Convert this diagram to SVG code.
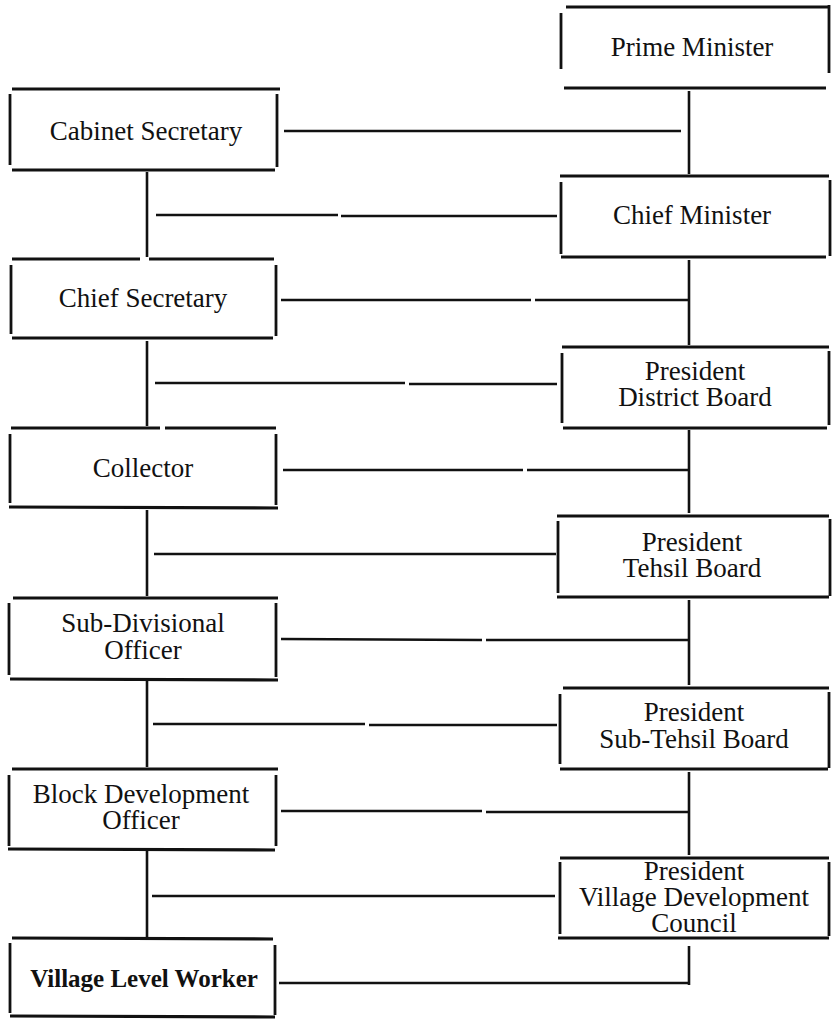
<svg xmlns="http://www.w3.org/2000/svg" width="832" height="1020" viewBox="0 0 832 1020">
<style>
.bg{fill:#fff}
.h{stroke:#111;stroke-width:3.2;stroke-linecap:butt}
.v{stroke:#111;stroke-width:2.8;stroke-linecap:butt}
.c{stroke:#111;stroke-width:2.6;fill:none}
.t{font-family:"Liberation Serif","Times New Roman",serif;font-size:27px;fill:#111;text-anchor:middle}
.b{font-weight:bold;font-size:25px}
</style>
<rect class="bg" x="0" y="0" width="832" height="1020"/>
<g id="connectors">
  <line class="c" x1="689" y1="91" x2="689" y2="174"/>
  <line class="c" x1="689" y1="260" x2="689" y2="345"/>
  <line class="c" x1="689" y1="430" x2="689" y2="513"/>
  <line class="c" x1="689" y1="600" x2="689" y2="685"/>
  <line class="c" x1="689" y1="772" x2="689" y2="855"/>
  <line class="c" x1="689" y1="946" x2="689" y2="985"/>
  <line class="c" x1="147" y1="172" x2="147" y2="257"/>
  <line class="c" x1="147" y1="341" x2="147" y2="426"/>
  <line class="c" x1="147" y1="510" x2="147" y2="596"/>
  <line class="c" x1="147" y1="681" x2="147" y2="767"/>
  <line class="c" x1="147" y1="851" x2="147" y2="937"/>
  <line class="c" x1="284" y1="131" x2="681" y2="131"/>
  <line class="c" x1="281" y1="300" x2="531" y2="300"/>
  <line class="c" x1="535" y1="300" x2="689" y2="300"/>
  <line class="c" x1="283" y1="470" x2="523" y2="470"/>
  <line class="c" x1="527" y1="470" x2="689" y2="470"/>
  <line class="c" x1="281" y1="639" x2="482" y2="640"/>
  <line class="c" x1="486" y1="640" x2="689" y2="640"/>
  <line class="c" x1="281" y1="811" x2="482" y2="811"/>
  <line class="c" x1="486" y1="812" x2="689" y2="812"/>
  <line class="c" x1="279" y1="983" x2="689" y2="983"/>
  <line class="c" x1="156" y1="215" x2="338" y2="215"/>
  <line class="c" x1="341" y1="216" x2="557" y2="216"/>
  <line class="c" x1="155" y1="383" x2="405" y2="383"/>
  <line class="c" x1="409" y1="384" x2="557" y2="384"/>
  <line class="c" x1="154" y1="554" x2="556" y2="554"/>
  <line class="c" x1="153" y1="724" x2="365" y2="724"/>
  <line class="c" x1="369" y1="725" x2="557" y2="725"/>
  <line class="c" x1="152" y1="896" x2="555" y2="896"/>
</g>
<g id="prime-minister">
  <line class="h" x1="566" y1="7" x2="829" y2="7"/>
  <line class="v" x1="561" y1="13" x2="561" y2="69"/>
  <line class="v" x1="829" y1="5" x2="829" y2="73"/>
  <line class="h" x1="564" y1="88" x2="826" y2="88"/>
  <text class="t" x="692" y="56">Prime Minister</text>
</g>
<g id="cabinet-secretary">
  <line class="h" x1="12" y1="89" x2="280" y2="89"/>
  <line class="v" x1="10" y1="94" x2="10" y2="165"/>
  <line class="v" x1="277" y1="94" x2="277" y2="167"/>
  <line class="h" x1="12" y1="170" x2="275" y2="170"/>
  <text class="t" x="146" y="140">Cabinet Secretary</text>
</g>
<g id="chief-minister">
  <line class="h" x1="560" y1="176" x2="829" y2="176"/>
  <line class="v" x1="561" y1="182" x2="561" y2="254"/>
  <line class="v" x1="830" y1="180" x2="830" y2="256"/>
  <line class="h" x1="561" y1="257" x2="826" y2="257"/>
  <text class="t" x="692" y="224">Chief Minister</text>
</g>
<g id="chief-secretary">
  <line class="h" x1="12" y1="259" x2="140" y2="259"/>
  <line class="h" x1="149" y1="259" x2="274" y2="259"/>
  <line class="v" x1="11" y1="265" x2="11" y2="334"/>
  <line class="v" x1="276" y1="265" x2="276" y2="336"/>
  <line class="h" x1="12" y1="338" x2="273" y2="338"/>
  <text class="t" x="143" y="307">Chief Secretary</text>
</g>
<g id="president-district-board">
  <line class="h" x1="562" y1="347" x2="829" y2="347"/>
  <line class="v" x1="562" y1="353" x2="562" y2="423"/>
  <line class="v" x1="829" y1="351" x2="829" y2="425"/>
  <line class="h" x1="563" y1="428" x2="827" y2="428"/>
  <text class="t" x="695" y="380">President</text>
  <text class="t" x="695" y="406">District Board</text>
</g>
<g id="collector">
  <line class="h" x1="11" y1="428" x2="160" y2="428"/>
  <line class="h" x1="165" y1="428" x2="276" y2="428"/>
  <line class="v" x1="10" y1="434" x2="10" y2="503"/>
  <line class="v" x1="276" y1="434" x2="276" y2="505"/>
  <line class="h" x1="9" y1="507" x2="278" y2="508"/>
  <text class="t" x="143" y="477">Collector</text>
</g>
<g id="president-tehsil-board">
  <line class="h" x1="557" y1="516" x2="829" y2="516"/>
  <line class="v" x1="558" y1="521" x2="558" y2="593"/>
  <line class="v" x1="830" y1="519" x2="830" y2="596"/>
  <line class="h" x1="557" y1="597" x2="829" y2="597"/>
  <text class="t" x="692" y="551">President</text>
  <text class="t" x="692" y="577">Tehsil Board</text>
</g>
<g id="sub-divisional-officer">
  <line class="h" x1="13" y1="598" x2="278" y2="598"/>
  <line class="v" x1="9" y1="603" x2="9" y2="675"/>
  <line class="v" x1="276" y1="603" x2="276" y2="677"/>
  <line class="h" x1="10" y1="679" x2="278" y2="680"/>
  <text class="t" x="143" y="632">Sub-Divisional</text>
  <text class="t" x="143" y="659">Officer</text>
</g>
<g id="president-sub-tehsil-board">
  <line class="h" x1="563" y1="688" x2="829" y2="688"/>
  <line class="v" x1="560" y1="694" x2="560" y2="764"/>
  <line class="v" x1="829" y1="692" x2="829" y2="768"/>
  <line class="h" x1="560" y1="769" x2="828" y2="769"/>
  <text class="t" x="694" y="721">President</text>
  <text class="t" x="694" y="748">Sub-Tehsil Board</text>
</g>
<g id="block-development-officer">
  <line class="h" x1="12" y1="769" x2="278" y2="769"/>
  <line class="v" x1="9" y1="775" x2="9" y2="846"/>
  <line class="v" x1="276" y1="775" x2="276" y2="846"/>
  <line class="h" x1="8" y1="849" x2="275" y2="850"/>
  <text class="t" x="141" y="803">Block Development</text>
  <text class="t" x="141" y="829">Officer</text>
</g>
<g id="president-village-development-council">
  <line class="h" x1="560" y1="858" x2="829" y2="858"/>
  <line class="v" x1="560" y1="862" x2="560" y2="934"/>
  <line class="v" x1="829" y1="862" x2="829" y2="936"/>
  <line class="h" x1="558" y1="938" x2="829" y2="938"/>
  <text class="t" x="694" y="880">President</text>
  <text class="t" x="694" y="906">Village Development</text>
  <text class="t" x="694" y="932">Council</text>
</g>
<g id="village-level-worker">
  <line class="h" x1="12" y1="938" x2="273" y2="939"/>
  <line class="v" x1="10" y1="943" x2="10" y2="1013"/>
  <line class="v" x1="275" y1="945" x2="275" y2="1015"/>
  <line class="h" x1="10" y1="1016" x2="275" y2="1017"/>
  <text class="t b" x="144" y="987">Village Level Worker</text>
</g>
</svg>
